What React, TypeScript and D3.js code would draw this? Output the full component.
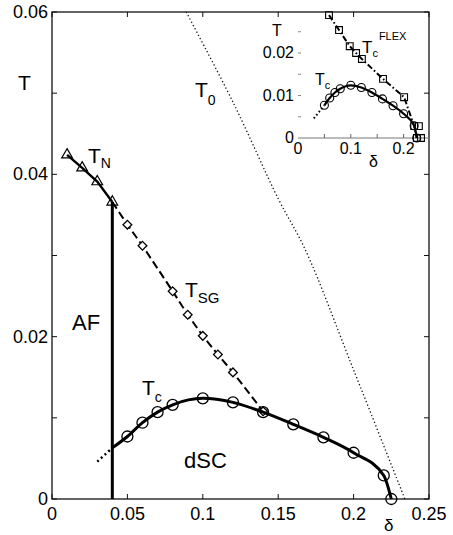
import React from 'react';
import * as d3 from 'd3';

const W = 453, H = 535;

// main panel: Tc (circles), its dotted stub below the AF line
const tcDelta = [0.05, 0.06, 0.07, 0.08, 0.10, 0.12, 0.14, 0.16, 0.18, 0.20, 0.22, 0.225];
const tcT = [0.0077, 0.0094, 0.0107, 0.0116, 0.0124, 0.0119, 0.0107, 0.0092, 0.0076, 0.0057, 0.0029, 0];
const stubDelta = [0.03, 0.04];
const stubT = [0.0046, 0.0063];

// T_N (triangles) and T_SG (diamonds)
const tnDelta = [0.01, 0.02, 0.03, 0.04];
const tnT = [0.0424, 0.0408, 0.0391, 0.0366];
const tsgDelta = [0.04, 0.05, 0.06, 0.08, 0.09, 0.10, 0.11, 0.12, 0.14];
const tsgT = [0.0366, 0.0338, 0.0312, 0.0256, 0.0227, 0.0201, 0.0178, 0.0156, 0.0108];

// T0 dotted
const t0Delta = [0.089, 0.12, 0.15, 0.168, 0.2, 0.234];
const t0T = [0.06, 0.0489, 0.037, 0.0307, 0.0159, 0];

// AF boundary
const afDelta = 0.04;

// inset: Tc FLEX squares
const flexDelta = [0.0587, 0.0777, 0.098, 0.110, 0.121, 0.161, 0.201, 0.220, 0.225];
const flexT = [0.0289, 0.0254, 0.0216, 0.0200, 0.0186, 0.0139, 0.0096, 0.0028, 0];
const flexExtraDelta = [0.229, 0.233];
const flexExtraT = [0.0028, 0];

// ticks
const xTicks = [0, 0.05, 0.1, 0.15, 0.2, 0.25];
const xTickLabels = ['0', '0.05', '0.1', '0.15', '0.2', '0.25'];
const yTicks = [0, 0.01, 0.02, 0.03, 0.04, 0.05, 0.06];
const yLabelTicks = [0, 0.02, 0.04, 0.06];
const yTickLabels = ['0', '0.02', '0.04', '0.06'];
const insetXTicks = [0, 0.1, 0.2];
const insetXLabels = ['0', '0.1', '0.2'];
const insetYTicks = [0, 0.01, 0.02];
const insetYLabels = ['0', '0.01', '0.02'];

const FONT = 'Arial, "Liberation Sans", Helvetica, sans-serif';

const zip = (a: number[], b: number[]) => a.map((v, i) => [v, b[i]] as [number, number]);

export default function App() {
  // main scales
  const x = d3.scaleLinear().domain([0, 0.25]).range([52, 429]);
  const y = d3.scaleLinear().domain([0, 0.06]).range([499, 12]);
  // inset scales
  const ix = d3.scaleLinear().domain([0, 0.25]).range([298, 430]);
  const iy = d3.scaleLinear().domain([0, 0.01]).range([138, 95.5]);

  const line = d3.line<[number, number]>().x(d => x(d[0])).y(d => y(d[1]));
  const smooth = d3.line<[number, number]>().x(d => x(d[0])).y(d => y(d[1])).curve(d3.curveMonotoneX);
  const soft = d3.line<[number, number]>().x(d => x(d[0])).y(d => y(d[1])).curve(d3.curveCatmullRom.alpha(0.5));
  const iline = d3.line<[number, number]>().x(d => ix(d[0])).y(d => iy(d[1]));
  const ismooth = d3.line<[number, number]>().x(d => ix(d[0])).y(d => iy(d[1])).curve(d3.curveMonotoneX);

  const tc = zip(tcDelta, tcT);
  const stub = zip(stubDelta, stubT);
  const tcSolid = [stub[stub.length - 1], ...tc];
  const tn = zip(tnDelta, tnT);
  const tsg = zip(tsgDelta, tsgT);
  const t0 = zip(t0Delta, t0T);
  const flex = zip(flexDelta, flexT);
  const flexExtra = zip(flexExtraDelta, flexExtraT);

  const tri = d3.symbol(d3.symbolTriangle, 50)()!;
  const sq = d3.symbol(d3.symbolSquare, 38)()!;
  const isq = d3.symbol(d3.symbolSquare, 46)()!;

  return (
    <svg width={W} height={H} style={{ position: 'absolute', left: 0, top: 0, background: '#fff' }}
      fontFamily={FONT}>
      <rect width={W} height={H} fill="#fff" />

      {/* frame */}
      <rect x={52} y={12} width={377} height={487} fill="none" stroke="#111" strokeWidth={1.3} />

      {/* ticks main */}
      {yTicks.map(t => (
        <g key={'yt' + t}>
          <line x1={52} x2={57} y1={y(t)} y2={y(t)} stroke="#111" strokeWidth={1} />
          <line x1={424} x2={429} y1={y(t)} y2={y(t)} stroke="#111" strokeWidth={1} />
        </g>
      ))}
      {xTicks.map(t => (
        <g key={'xt' + t}>
          <line x1={x(t)} x2={x(t)} y1={499} y2={494} stroke="#111" strokeWidth={1} />
          <line x1={x(t)} x2={x(t)} y1={12} y2={17} stroke="#111" strokeWidth={1} />
        </g>
      ))}
      {xTicks.map((t, i) => (
        <text key={'xl' + t} x={x(t)} y={520} fontSize={18} textAnchor="middle">{xTickLabels[i]}</text>
      ))}
      {yLabelTicks.map((t, i) => (
        <text key={'yl' + t} x={48} y={y(t) + 6} fontSize={18} textAnchor="end">{yTickLabels[i]}</text>
      ))}

      {/* T0 dotted */}
      <path d={soft(t0)!} fill="none" stroke="#111" strokeWidth={1.3} strokeDasharray="1.3,2.4" />

      {/* AF boundary */}
      <line x1={x(afDelta)} x2={x(afDelta)} y1={y(0)} y2={y(tnT[tnT.length - 1])} stroke="#000" strokeWidth={3} />

      {/* T_N */}
      <path d={line(tn)!} fill="none" stroke="#000" strokeWidth={2.4} />
      {tn.map((d, i) => (
        <path key={'tn' + i} d={tri} transform={`translate(${x(d[0])},${y(d[1])})`} fill="none" stroke="#000" strokeWidth={1.2} />
      ))}

      {/* T_SG dashed */}
      <path d={line(tsg)!} fill="none" stroke="#000" strokeWidth={2} strokeDasharray="8,4" />
      {tsg.slice(1).map((d, i) => (
        <path key={'sg' + i} d={sq} transform={`translate(${x(d[0])},${y(d[1])}) rotate(45)`} fill="#fff" stroke="#000" strokeWidth={1.3} />
      ))}

      {/* Tc */}
      <path d={line(stub)!} fill="none" stroke="#000" strokeWidth={2.4} strokeDasharray="2,3" />
      <path d={smooth(tcSolid)!} fill="none" stroke="#000" strokeWidth={3} />
      {tc.map((d, i) => (
        <circle key={'tc' + i} cx={x(d[0])} cy={y(d[1])} r={5.5} fill="none" stroke="#000" strokeWidth={1.3} />
      ))}

      {/* labels */}
      <text x={18} y={90} fontSize={21}>T</text>
      <text x={195} y={97} fontSize={21}>T<tspan fontSize={14} dy={8}>0</tspan></text>
      <text x={88} y={163} fontSize={21}>T<tspan fontSize={14} dy={5}>N</tspan></text>
      <text x={185} y={297} fontSize={21}>T<tspan fontSize={15} dy={6}>SG</tspan></text>
      <text x={72} y={330} fontSize={22}>AF</text>
      <text x={142} y={395} fontSize={21}>T<tspan fontSize={14} dy={7}>c</tspan></text>
      <text x={184} y={468} fontSize={22}>dSC</text>
      <text x={384} y={531} fontSize={17}>δ</text>

      {/* inset */}
      <g>
        <line x1={298} x2={430} y1={138} y2={138} stroke="#777" strokeWidth={1} />
        {[0.005, 0.01, 0.015, 0.02, 0.025].map(t => (
          <line key={'iyt' + t} x1={298} x2={301} y1={iy(t)} y2={iy(t)} stroke="#888" strokeWidth={1} />
        ))}
        {[0.05, 0.1, 0.15, 0.2].map(t => (
          <line key={'ixt' + t} x1={ix(t)} x2={ix(t)} y1={138} y2={134} stroke="#666" strokeWidth={1} />
        ))}
        {insetXTicks.map((t, i) => (
          <text key={'ixl' + t} x={ix(t)} y={154} fontSize={16} textAnchor="middle">{insetXLabels[i]}</text>
        ))}
        {insetYTicks.map((t, i) => (
          <text key={'iyl' + t} x={294} y={iy(t) + 5} fontSize={16} textAnchor="end">{insetYLabels[i]}</text>
        ))}
        <text x={272} y={36} fontSize={16}>T</text>
        <text x={369} y={167} fontSize={16}>δ</text>

        <path d={iline([stub[0], tc[0]])!} fill="none" stroke="#000" strokeWidth={2} strokeDasharray="1.6,2.4" />
        <path d={ismooth(tc)!} fill="none" stroke="#000" strokeWidth={2.2} />
        {tc.map((d, i) => (
          <circle key={'itc' + i} cx={ix(d[0])} cy={iy(d[1])} r={4} fill="none" stroke="#000" strokeWidth={1.1} />
        ))}

        <path d={iline(flex)!} fill="none" stroke="#000" strokeWidth={2} strokeDasharray="6,2.5,1.6,2.5" />
        {[...flex, ...flexExtra].map((d, i) => (
          <path key={'fx' + i} d={isq} transform={`translate(${ix(d[0])},${iy(d[1])})`} fill="none" stroke="#000" strokeWidth={1.1} />
        ))}

        <text x={315} y={85} fontSize={16}>T<tspan fontSize={11} dy={4}>c</tspan></text>
        <text x={362} y={53} fontSize={17}>T<tspan fontSize={11} dy={4}>c</tspan>
          <tspan fontSize={11} dx={1} dy={-17}>FLEX</tspan></text>
      </g>
    </svg>
  );
}
